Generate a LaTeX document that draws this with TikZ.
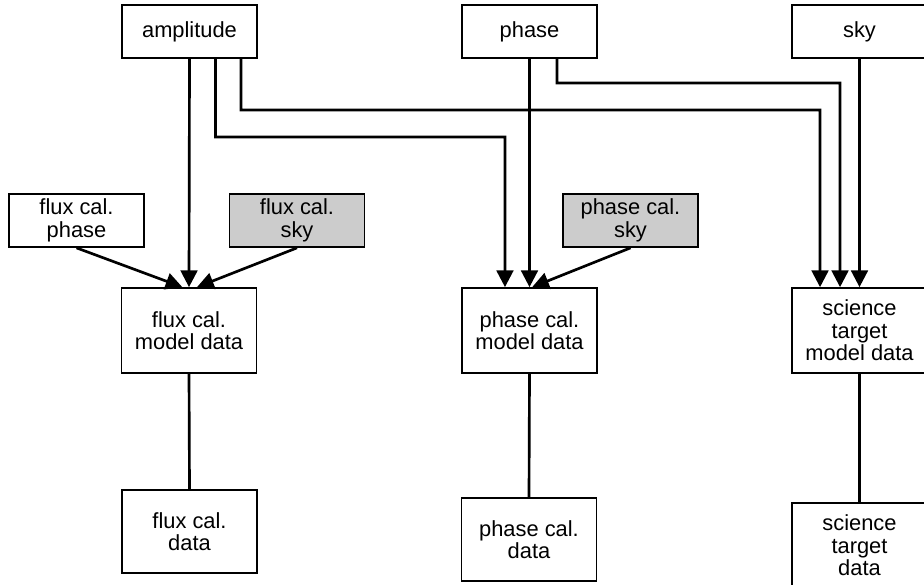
\documentclass[tikz,border=0pt]{standalone}
\usepackage{fontspec}
\setmainfont{Liberation Sans}
\usepackage{tikz}
\usetikzlibrary{arrows.meta}
\tikzset{every picture/.style={line width=0.75pt}}
\definecolor{calgray}{RGB}{204,204,204}
\tikzset{
  blockbox/.style={draw, line width=1.3pt, align=center, inner sep=0pt,
    minimum width=101.25pt, font=\fontsize{16.4}{16.8}\selectfont},
  smallbox/.style={blockbox, minimum height=39.75pt},
  tallbox/.style={blockbox, minimum height=63.75pt},
  calbox/.style={smallbox, fill=calgray},
  feed/.style={line width=2pt, -{Triangle[length=12.5pt,width=12.5pt]}},
  link/.style={line width=2pt},
}

\begin{document}
\begin{tikzpicture}[x=0.75pt,y=0.75pt,yscale=-1,xscale=1]
\useasboundingbox (0,0) rectangle (924,585);

% Text Node
\node [smallbox] (amp) at (189.5,31.5) {amplitude};
% Text Node
\node [smallbox] (pha) at (529.5,31.5) {phase};
% Text Node
\node [smallbox] (sky) at (859.5,31.5) {sky};
% Text Node
\node [smallbox] (fcphase) at (76.5,220.5) {flux cal.\\phase};
% Text Node
\node [calbox] (fcsky) at (297,220.5) {flux cal.\\sky};
% Text Node
\node [calbox] (pcsky) at (630.5,220.5) {phase cal.\\sky};
% Text Node
\node [tallbox] (fcmodel) at (189,330.5) {flux cal.\\model data};
% Text Node
\node [tallbox] (pcmodel) at (529.5,330.5) {phase cal.\\model data};
% Text Node
\node [tallbox] (stmodel) at (859.5,330.5) {science\\target\\model data};
% Text Node
\node [blockbox, minimum height=62.25pt] (fcdata) at (189.5,531.5) {flux cal.\\data};
% Text Node
\node [blockbox, minimum height=62.25pt] (pcdata) at (529,539.5) {phase cal.\\data};
% Text Node
\node [tallbox] (stdata) at (859.5,545.5) {science\\target\\data};

%Bends
\coordinate (ampbendA) at (505,137);
\coordinate (ampbendB) at (820,110);
\coordinate (phabend) at (840,83);

%Straight Lines
\draw [feed] (amp.south) -- (fcmodel.north);
%Straight Lines
\draw [feed] ([xshift=19.5pt]amp.south) |- (ampbendA) -- ([xshift=-18.4pt]pcmodel.north);
%Straight Lines
\draw [feed] ([xshift=38.6pt]amp.south) |- (ampbendB) -- ([xshift=-29.6pt]stmodel.north);
%Straight Lines
\draw [feed] (pha.south) -- (pcmodel.north);
%Straight Lines
\draw [feed] ([xshift=20.6pt]pha.south) |- (phabend) -- ([xshift=-14.6pt]stmodel.north);
%Straight Lines
\draw [feed] (sky.south) -- (stmodel.north);
%Straight Lines
\draw [feed] (fcphase.south) -- ([xshift=-5pt]fcmodel.north);
%Straight Lines
\draw [feed] (fcsky.south) -- ([xshift=6pt]fcmodel.north);
%Straight Lines
\draw [feed] (pcsky.south) -- ([xshift=2pt]pcmodel.north);

%Straight Lines
\draw [link] (fcmodel.south) -- (fcdata.north);
%Straight Lines
\draw [link] (pcmodel.south) -- (pcdata.north);
%Straight Lines
\draw [link] (stmodel.south) -- (stdata.north);
\end{tikzpicture}
\end{document}
